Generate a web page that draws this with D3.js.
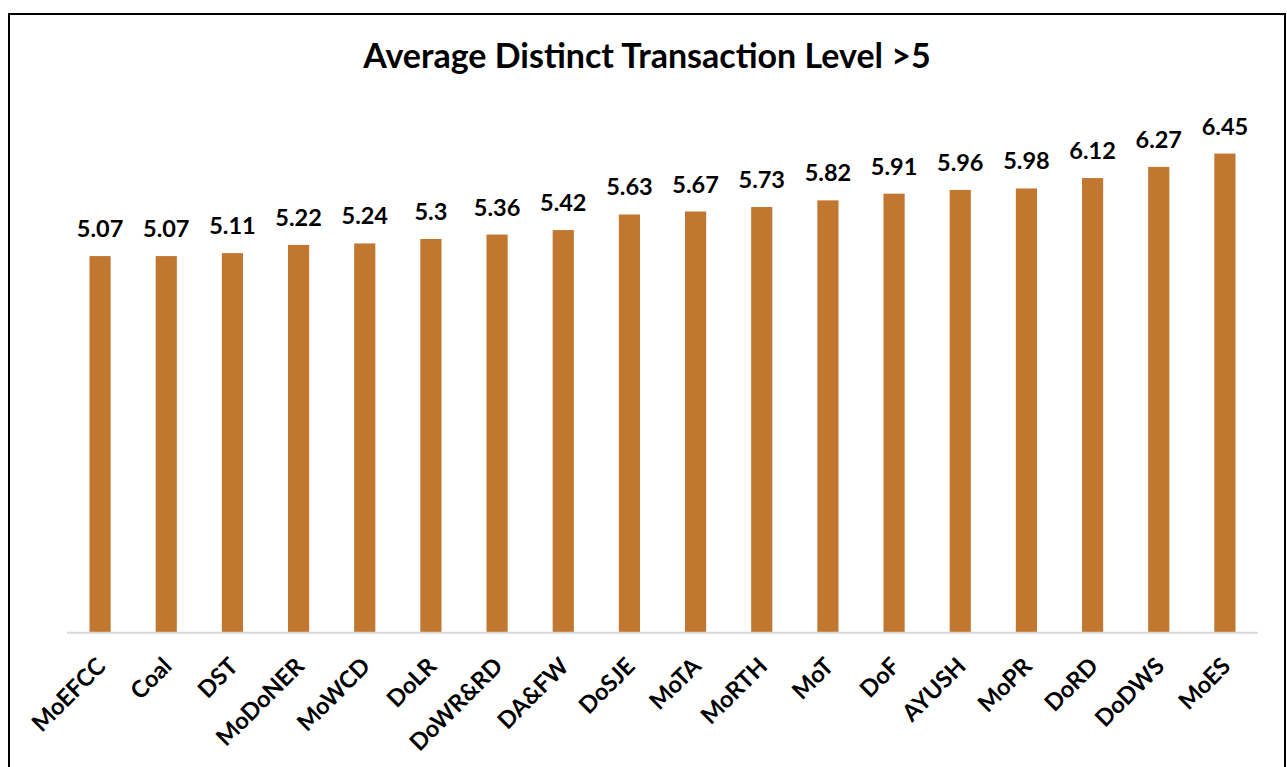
<!DOCTYPE html>
<html>
<head>
<meta charset="utf-8">
<script src="https://cdn.jsdelivr.net/npm/d3@7"></script>
<style>
  html, body { margin: 0; padding: 0; background: #fff; }
  svg { display: block; }
  text { font-family: Lato, "Open Sans", sans-serif; font-weight: bold; fill: #000; }
</style>
</head>
<body>
<svg id="chart" width="1287" height="767"></svg>
<script>
const categories = ["MoEFCC","Coal","DST","MoDoNER","MoWCD","DoLR","DoWR&RD","DA&FW","DoSJE","MoTA","MoRTH","MoT","DoF","AYUSH","MoPR","DoRD","DoDWS","MoES"];
const values = [5.07,5.07,5.11,5.22,5.24,5.3,5.36,5.42,5.63,5.67,5.73,5.82,5.91,5.96,5.98,6.12,6.27,6.45];
const valueLabels = ["5.07","5.07","5.11","5.22","5.24","5.3","5.36","5.42","5.63","5.67","5.73","5.82","5.91","5.96","5.98","6.12","6.27","6.45"];
const title = "Average Distinct Transaction Level >5";

const svg = d3.select("#chart");

// outer border
svg.append("rect")
  .attr("x", 9).attr("y", 14)
  .attr("width", 1276).attr("height", 800)
  .attr("fill", "none").attr("stroke", "#000").attr("stroke-width", 2);

const plot = { left: 67, right: 1258, top: 112.7, bottom: 632.7 };

const x = d3.scaleBand().domain(categories).range([plot.left, plot.right]).paddingInner(0.68).paddingOuter(0.34);
const y = d3.scaleLinear().domain([0, 7]).range([plot.bottom, plot.top]);

svg.append("text")
  .attr("x", 647).attr("y", 68)
  .attr("text-anchor", "middle")
  .style("font-size", "34px")
  .text(title);

const data = categories.map((c, i) => ({ c, v: values[i], l: valueLabels[i] }));

svg.append("g").selectAll("rect").data(data).join("rect")
  .attr("x", d => x(d.c))
  .attr("y", d => y(d.v))
  .attr("width", x.bandwidth())
  .attr("height", d => y(0) - y(d.v))
  .attr("fill", "#C17730");

svg.append("g").selectAll("text").data(data).join("text")
  .attr("x", d => x(d.c) + x.bandwidth() / 2)
  .attr("y", d => y(d.v) - 19)
  .attr("text-anchor", "middle")
  .style("font-size", "23.5px")
  .text(d => d.l);

// x axis
const xAxis = d3.axisBottom(x).tickSize(0).tickPadding(0);
const gx = svg.append("g").attr("transform", `translate(0,${plot.bottom})`).call(xAxis);
gx.select(".domain").attr("stroke", "#d9d9d9").attr("stroke-width", 2)
  .attr("d", `M${plot.left},0H${plot.right}`);
gx.selectAll(".tick text")
  .attr("font-family", null).attr("font-size", null)
  .style("font-size", "23.5px")
  .attr("text-anchor", "end")
  .attr("y", 0).attr("dy", "0")
  .attr("transform", "translate(7,35) rotate(-45)");
</script>
</body>
</html>
